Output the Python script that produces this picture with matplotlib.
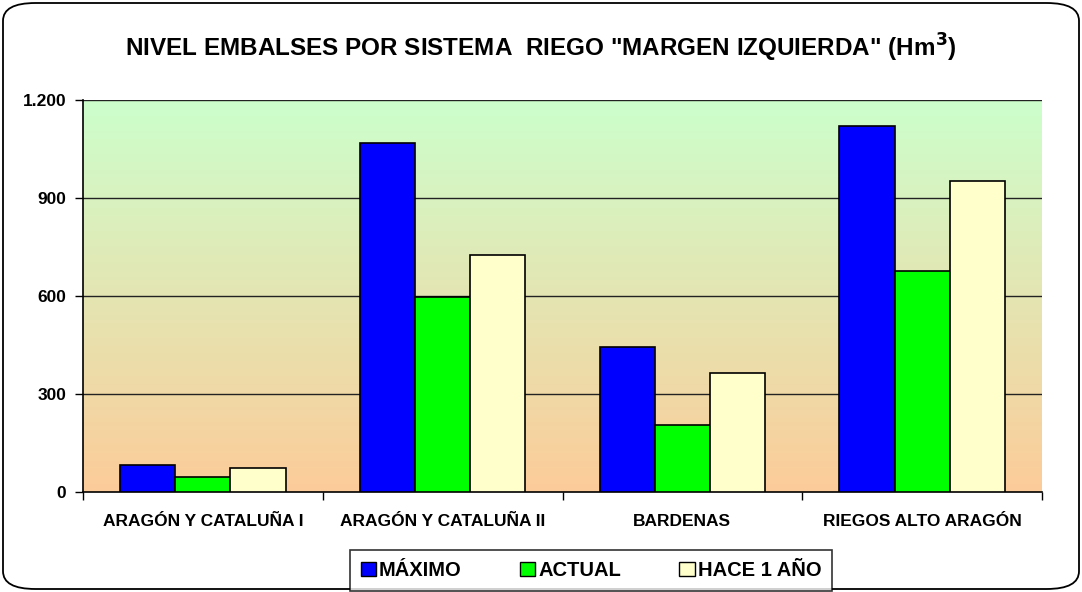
import matplotlib.pyplot as plt
import numpy as np
from matplotlib.patches import FancyBboxPatch, Patch
from matplotlib.ticker import FuncFormatter

# datos (Hm3)
sistemas = ['ARAGÓN Y CATALUÑA I', 'ARAGÓN Y CATALUÑA II', 'BARDENAS', 'RIEGOS ALTO ARAGÓN']
maximo = [83, 1067, 445, 1120]
actual = [47, 596, 205, 677]
hace_1_ano = [72, 724, 363, 953]
series = ['MÁXIMO', 'ACTUAL', 'HACE 1 AÑO']
colores = ['#0000FF', '#00FF00', '#FFFFCC']

plt.rcParams['font.family'] = ['Liberation Sans', 'DejaVu Sans']
plt.rcParams['font.weight'] = 'bold'

fig = plt.figure(figsize=(10.82, 5.92), dpi=100)
ax = fig.add_axes([83 / 1082, 1 - 492 / 592, (1042 - 83) / 1082, 392 / 592])

# fondo degradado verde -> naranja
top = np.array([204, 255, 204]) / 255
bot = np.array([252, 204, 153]) / 255
t = np.linspace(0, 1, 256)[:, None]
grad = (top * (1 - t) + bot * t)[:, None, :]
ax.imshow(grad, extent=[-0.5, 3.5, 0, 1200], aspect='auto', zorder=0)

x = np.arange(len(sistemas))
w = 0.23
for i, (vals, c) in enumerate(zip([maximo, actual, hace_1_ano], colores)):
    ax.bar(x + (i - 1) * w, vals, w, color=c, edgecolor='black', linewidth=1.2, zorder=3)

ax.set_xlim(-0.5, 3.5)
ax.set_ylim(0, 1200)
ax.set_yticks([0, 300, 600, 900, 1200])
ax.yaxis.set_major_formatter(FuncFormatter(lambda v, p: f'{int(v):,}'.replace(',', '.')))
for yv in [300, 600, 900, 1200]:
    ax.axhline(yv, color='#222222', lw=1, zorder=1)

ax.set_xticks(x)
ax.set_xticklabels(sistemas)
ax.set_xticks(np.arange(-0.5, 4, 1), minor=True)
ax.tick_params(axis='x', which='major', length=0, pad=16, labelsize=12.5)
ax.tick_params(axis='x', which='minor', length=6, width=1)
ax.tick_params(axis='y', length=6, width=1, labelsize=12.5, pad=6)
for s in ['top', 'right']:
    ax.spines[s].set_visible(False)
for s in ['left', 'bottom']:
    ax.spines[s].set_linewidth(1.2)

fig.text(0.5, 1 - 48 / 592, 'NIVEL EMBALSES POR SISTEMA  RIEGO "MARGEN IZQUIERDA" (Hm$^\\mathbf{3}$)',
         ha='center', va='center', fontsize=17.5, fontweight='bold')

handles = [Patch(facecolor=c, edgecolor='black', linewidth=1) for c in colores]
leg = fig.legend(handles, series, loc='upper center', bbox_to_anchor=(591 / 1082, 1 - 550 / 592),
                 ncol=3, frameon=True, fancybox=False, edgecolor='black', fontsize=14.5,
                 handlelength=0.75, handleheight=0.75, handletextpad=0.15, columnspacing=2.9,
                 borderpad=0.55, borderaxespad=0)
leg.get_frame().set_linewidth(1.2)

frame = FancyBboxPatch((3 / 1082, 3 / 592), 1076 / 1082, 586 / 592,
                       boxstyle='round,pad=0,rounding_size=0.03', transform=fig.transFigure,
                       facecolor='none', edgecolor='black', linewidth=1.3)
fig.patches.append(frame)

fig.savefig('out.png', dpi=100)
